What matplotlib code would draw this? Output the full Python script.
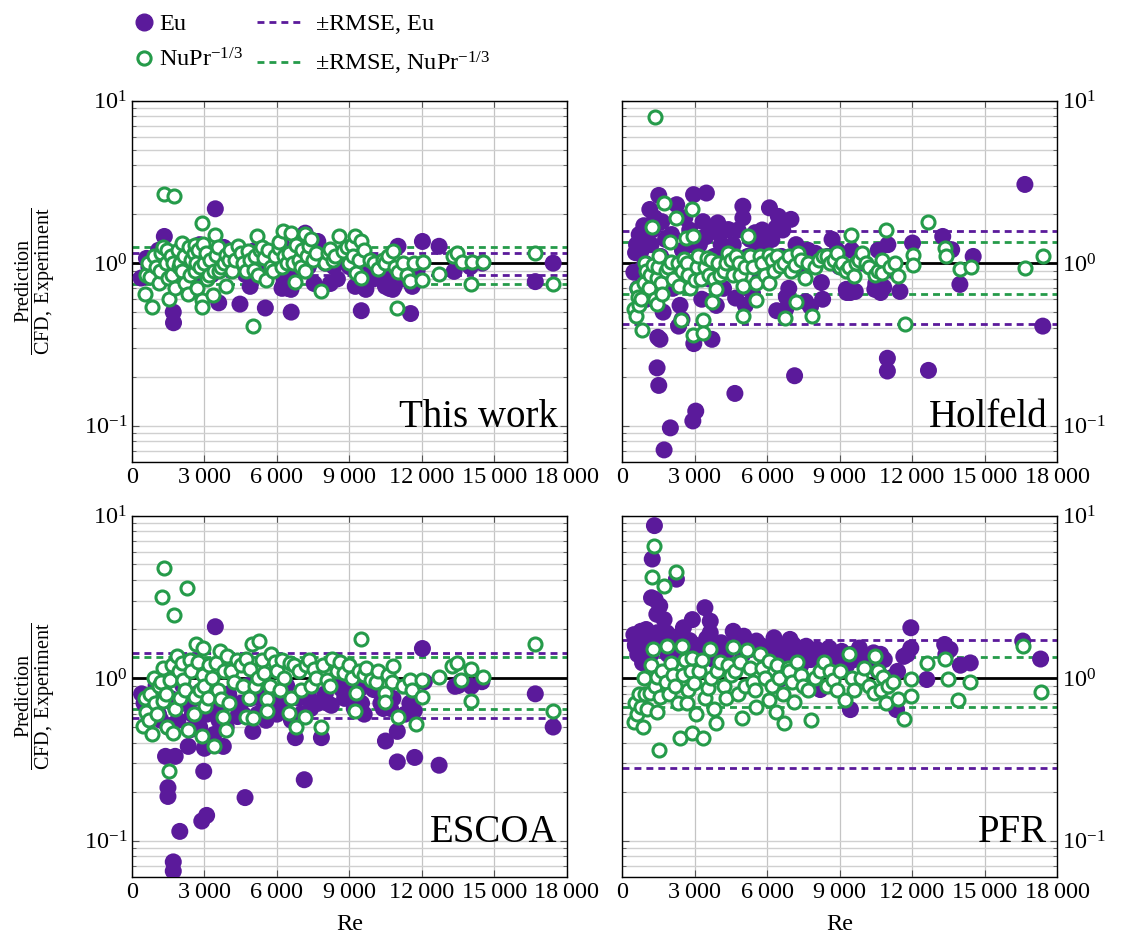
import matplotlib
matplotlib.use('Agg')
import matplotlib.pyplot as plt
import numpy as np
from matplotlib.ticker import FuncFormatter, LogLocator, MultipleLocator, NullFormatter
from matplotlib.lines import Line2D

plt.rcParams['font.family'] = ['Liberation Serif', 'DejaVu Serif']
plt.rcParams['mathtext.fontset'] = 'custom'
plt.rcParams['mathtext.rm'] = 'Liberation Serif'
plt.rcParams['mathtext.it'] = 'Liberation Serif:italic'

PURPLE = '#5b1a9b'
GREEN = '#259b4a'

# (Re, prediction / reference) pairs
tw_eu = [(380, 0.81), (600, 1.07), (700, 0.95), (900, 0.9), (1100, 1.2), (1250, 1.0), (1340, 1.46),
         (1500, 0.95), (1710, 0.50), (1720, 0.43), (1800, 0.9), (2000, 1.05), (2200, 1.1), (2300, 0.85),
         (2500, 0.8), (2600, 1.2), (2800, 1.3), (2900, 0.95), (3200, 1.1), (3300, 0.85), (3450, 2.16),
         (3590, 0.57), (3600, 1.2), (3800, 1.25), (3900, 1.0), (4100, 0.9), (4300, 1.1), (4470, 0.56),
         (4700, 0.85), (4890, 0.72), (5100, 1.2), (5200, 1.0), (5520, 0.53), (5600, 0.9), (5800, 1.1),
         (6000, 1.0), (6200, 1.3), (6210, 0.70), (6250, 0.72), (6300, 0.78), (6400, 0.85), (6450, 0.7),
         (6580, 0.69), (6590, 0.50), (6600, 0.75), (6700, 0.85), (6900, 1.2), (7000, 1.4), (7170, 1.53),
         (7300, 0.95), (7400, 1.1), (7540, 0.75), (7690, 1.36), (7800, 1.1), (8000, 1.0), (8210, 0.75),
         (8360, 0.95), (8500, 0.8), (8700, 1.05), (8800, 1.1), (9000, 0.95), (9240, 0.72), (9300, 0.9),
         (9490, 0.51), (9680, 0.69), (9900, 0.9), (10000, 0.8), (10200, 1.0), (10400, 0.9), (10490, 0.72),
         (10550, 0.75), (10600, 0.85), (10650, 0.7), (10700, 0.75), (10790, 0.69), (10850, 0.72),
         (10900, 0.9), (11010, 1.27), (11200, 0.8), (11300, 0.95), (11530, 0.49), (11600, 0.72),
         (11800, 0.9), (12020, 1.36), (12710, 1.27), (13330, 0.89), (13500, 1.0), (14000, 0.95),
         (14500, 1.0), (16690, 0.77), (17430, 1.0)]
tw_nu = [(530, 0.65), (600, 0.85), (650, 1.0), (750, 0.82), (830, 0.54), (900, 1.1), (1000, 0.95),
         (1100, 0.75), (1150, 0.9), (1200, 1.15), (1300, 1.25), (1340, 2.66), (1400, 1.0), (1450, 1.2),
         (1490, 0.81), (1520, 0.60), (1610, 1.11), (1650, 0.85), (1700, 1.0), (1740, 2.59), (1800, 0.7),
         (1900, 1.2), (1950, 0.95), (2000, 1.0), (2080, 0.89), (2080, 1.33), (2150, 1.1), (2200, 0.75),
         (2300, 0.65), (2350, 1.25), (2400, 0.85), (2450, 1.05), (2550, 1.15), (2600, 0.89), (2600, 1.30),
         (2650, 1.0), (2700, 0.7), (2750, 1.2), (2800, 0.95), (2890, 1.76), (2890, 0.59), (2890, 0.54),
         (2940, 1.31), (2970, 1.0), (3050, 1.15), (3100, 0.8), (3200, 0.85), (3250, 1.05), (3340, 0.64),
         (3400, 0.9), (3440, 1.49), (3480, 1.13), (3550, 1.25), (3600, 0.9), (3700, 0.95), (3800, 1.0),
         (3880, 0.72), (3880, 1.13), (4000, 1.05), (4050, 1.2), (4150, 0.89), (4250, 1.05), (4370, 1.27),
         (4500, 1.15), (4600, 1.0), (4700, 0.9), (4810, 1.18), (4900, 1.05), (5000, 0.41), (5030, 0.91),
         (5100, 1.1), (5180, 1.46), (5200, 0.85), (5300, 1.2), (5400, 1.25), (5480, 1.07), (5550, 0.79),
         (5650, 1.2), (5740, 0.95), (5850, 0.9), (5900, 1.1), (6070, 1.24), (6100, 1.35), (6200, 0.95),
         (6260, 1.57), (6300, 1.1), (6400, 1.0), (6510, 1.15), (6580, 1.53), (6650, 1.0), (6730, 0.77),
         (6800, 1.3), (6900, 1.05), (7000, 0.95), (7050, 1.2), (7170, 0.89), (7170, 1.52), (7250, 1.1),
         (7320, 1.27), (7400, 1.4), (7510, 1.05), (7600, 1.15), (7840, 0.67), (8000, 1.0), (8100, 1.15),
         (8210, 1.22), (8300, 1.05), (8400, 1.1), (8580, 1.46), (8750, 1.18), (8900, 1.25), (9000, 1.0),
         (9100, 1.3), (9150, 1.1), (9240, 1.47), (9280, 0.87), (9390, 1.04), (9460, 1.36), (9490, 0.81),
         (9600, 1.2), (9830, 1.05), (10000, 1.0), (10200, 0.92), (10400, 1.05), (10470, 1.0), (10600, 1.1),
         (10790, 1.18), (10900, 0.95), (11010, 0.88), (10980, 0.53), (11200, 1.0), (11400, 0.85),
         (11500, 0.78), (11680, 1.0), (12020, 0.79), (12050, 1.02), (12710, 0.86), (13300, 1.11),
         (13450, 1.16), (13670, 1.02), (14010, 0.74), (14070, 1.01), (14510, 1.02), (16690, 1.15),
         (17430, 0.74)]

hol_eu = [(490, 0.88), (560, 1.16), (600, 1.3), (650, 0.7), (710, 1.50), (750, 0.9), (800, 1.2),
          (860, 1.54), (900, 1.7), (950, 1.0), (1000, 0.6), (1050, 1.3), (1100, 0.75), (1150, 2.14),
          (1200, 1.3), (1250, 1.6), (1300, 0.8), (1350, 1.9), (1400, 0.9), (1450, 0.227), (1480, 0.35),
          (1520, 2.61), (1520, 0.177), (1570, 0.34), (1600, 1.1), (1650, 1.8), (1700, 0.5), (1740, 0.071),
          (1800, 1.4), (1900, 1.0), (2000, 0.097), (2050, 1.5), (2100, 0.7), (2200, 0.85), (2260, 2.29),
          (2340, 0.41), (2400, 0.55), (2480, 0.45), (2500, 1.2), (2600, 1.9), (2700, 0.9), (2800, 1.6),
          (2900, 1.3), (2930, 0.107), (2960, 2.64), (2970, 0.32), (3050, 0.123), (3100, 0.9), (3200, 1.3),
          (3300, 0.6), (3350, 1.8), (3450, 1.45), (3490, 2.70), (3600, 0.8), (3700, 1.6), (3720, 0.34),
          (3800, 1.1), (3900, 0.55), (3960, 1.77), (4050, 1.5), (4100, 1.3), (4200, 0.7), (4300, 1.0),
          (4400, 1.61), (4500, 0.9), (4600, 1.3), (4670, 0.158), (4700, 0.61), (4800, 1.6), (5000, 2.24),
          (5000, 1.90), (5100, 0.55), (5200, 1.1), (5300, 1.4), (5400, 0.65), (5510, 1.54), (5600, 1.2),
          (5700, 0.8), (5800, 1.6), (5900, 1.3), (6000, 0.9), (6100, 2.19), (6200, 1.4), (6370, 1.65),
          (6400, 0.51), (6470, 1.94), (6600, 1.1), (6650, 1.6), (6770, 0.52), (6800, 0.62), (6900, 0.7),
          (6990, 1.86), (7140, 0.203), (7200, 1.3), (7300, 1.05), (7500, 0.9), (7600, 0.58), (7700, 1.2),
          (7800, 0.54), (8000, 1.15), (8250, 0.76), (8300, 0.6), (8500, 1.1), (8690, 1.40), (8900, 1.2),
          (9000, 0.95), (9280, 0.69), (9300, 0.66), (9450, 0.66), (9500, 1.2), (9650, 0.67), (10000, 1.0),
          (10460, 0.69), (10500, 0.75), (10600, 1.2), (10700, 0.66), (10830, 0.71), (10980, 0.26),
          (10980, 0.217), (11000, 1.3), (11200, 0.9), (11500, 0.67), (12020, 1.33), (12680, 0.219),
          (13270, 1.46), (13640, 1.21), (13980, 0.74), (14530, 1.10), (16670, 3.05), (17410, 0.41)]
hol_nu = [(490, 0.52), (560, 0.47), (600, 0.7), (650, 0.62), (700, 0.55), (780, 0.60), (830, 0.39),
          (900, 0.75), (950, 1.0), (1000, 0.9), (1100, 0.7), (1150, 0.85), (1230, 1.67), (1300, 0.98),
          (1345, 7.94), (1350, 0.6), (1450, 0.81), (1450, 0.56), (1500, 0.95), (1550, 1.1), (1600, 0.75),
          (1650, 0.65), (1740, 2.35), (1800, 0.9), (1900, 0.95), (1970, 1.35), (2040, 1.01), (2100, 0.8),
          (2220, 1.90), (2300, 1.0), (2340, 0.72), (2450, 0.45), (2500, 0.9), (2560, 1.06), (2630, 1.43),
          (2700, 1.0), (2750, 0.85), (2800, 0.7), (2900, 2.14), (2930, 1.46), (2930, 0.36), (3000, 0.79),
          (3100, 0.95), (3150, 1.1), (3250, 0.8), (3340, 0.45), (3370, 0.37), (3450, 0.95), (3520, 1.08),
          (3600, 0.85), (3700, 1.05), (3740, 0.58), (3800, 0.8), (3890, 0.69), (3960, 1.0), (4050, 0.85),
          (4200, 0.9), (4300, 1.0), (4400, 1.15), (4500, 1.05), (4600, 0.85), (4700, 1.1), (4820, 1.0),
          (4900, 0.85), (5000, 0.72), (5000, 0.47), (5100, 0.95), (5220, 1.46), (5300, 1.1), (5400, 0.95),
          (5560, 0.59), (5560, 0.76), (5700, 1.1), (5800, 1.0), (5900, 0.85), (6100, 1.13), (6100, 0.76),
          (6200, 1.05), (6300, 0.9), (6400, 1.1), (6550, 0.96), (6700, 1.0), (6740, 0.46), (6900, 1.1),
          (7000, 0.9), (7140, 0.98), (7180, 0.58), (7290, 1.16), (7400, 1.05), (7580, 0.81), (7700, 1.0),
          (7880, 0.47), (8000, 0.95), (8170, 1.05), (8300, 1.1), (8500, 1.1), (8600, 1.0), (8760, 1.05),
          (8900, 1.15), (9000, 0.95), (9100, 1.0), (9280, 0.89), (9400, 0.95), (9460, 1.50), (9580, 0.83),
          (9700, 1.0), (9800, 1.05), (9920, 1.15), (10100, 1.0), (10200, 0.95), (10460, 0.85),
          (10600, 0.9), (10760, 1.05), (10760, 0.87), (10940, 1.60), (11100, 0.95), (11300, 1.0),
          (11430, 0.83), (11690, 0.42), (12020, 1.13), (12020, 0.98), (12680, 1.79), (13350, 1.24),
          (13420, 1.11), (13980, 0.92), (14460, 0.95), (16670, 0.94), (17410, 1.11)]

esc_eu = [(400, 0.8), (500, 0.7), (600, 0.77), (700, 0.55), (800, 0.6), (900, 0.8), (1000, 0.9),
          (1100, 0.6), (1200, 0.55), (1300, 0.85), (1390, 0.33), (1490, 0.212), (1490, 0.187), (1500, 0.5),
          (1600, 0.75), (1700, 0.7), (1710, 0.074), (1710, 0.065), (1790, 0.33), (1900, 0.55), (1980, 0.114),
          (2100, 0.9), (2200, 0.7), (2330, 0.38), (2400, 0.48), (2500, 0.6), (2600, 0.75), (2700, 0.8),
          (2800, 0.5), (2890, 0.132), (2970, 0.267), (3000, 0.37), (3090, 0.143), (3100, 0.6), (3300, 0.7),
          (3400, 0.45), (3450, 2.07), (3600, 0.55), (3700, 0.65), (3780, 0.38), (3900, 0.5), (4000, 0.8),
          (4200, 0.7), (4370, 0.58), (4500, 0.7), (4600, 0.6), (4680, 0.184), (4800, 0.9), (4900, 0.75),
          (5000, 0.47), (5200, 0.6), (5300, 0.75), (5500, 0.8), (5550, 0.55), (5800, 0.85), (6000, 0.6),
          (6100, 0.7), (6300, 0.75), (6400, 0.9), (6600, 0.55), (6760, 0.43), (6900, 0.75), (7000, 0.6),
          (7130, 0.237), (7300, 0.8), (7400, 0.65), (7700, 0.7), (7840, 0.43), (8000, 0.8), (8100, 0.7),
          (8250, 0.68), (8500, 0.9), (8700, 0.85), (8800, 0.75), (9100, 0.8), (9200, 0.65), (9400, 0.85),
          (9500, 0.7), (9610, 0.60), (9900, 0.9), (10000, 0.85), (10300, 0.7), (10400, 0.65),
          (10490, 0.41), (10700, 0.65), (10800, 0.75), (10980, 0.47), (10980, 0.305), (11300, 0.6),
          (11500, 0.7), (11680, 0.63), (11700, 0.325), (12020, 1.52), (12100, 0.95), (12710, 0.291),
          (13370, 0.89), (13500, 0.9), (13600, 0.95), (14040, 0.89), (14480, 0.95), (16690, 0.80),
          (17430, 0.50)]
esc_nu = [(460, 0.51), (550, 0.75), (600, 0.62), (700, 0.55), (750, 0.80), (830, 0.45), (900, 1.0),
          (950, 0.7), (1050, 0.6), (1100, 0.9), (1200, 0.95), (1240, 3.15), (1270, 0.72), (1270, 1.15),
          (1340, 4.75), (1400, 0.8), (1460, 0.50), (1520, 0.27), (1590, 0.98), (1650, 1.2), (1710, 0.46),
          (1740, 2.43), (1800, 0.65), (1860, 1.36), (1950, 1.1), (2000, 0.75), (2080, 1.23), (2110, 0.98),
          (2200, 0.85), (2260, 3.60), (2330, 0.48), (2400, 1.3), (2450, 1.1), (2550, 0.6), (2600, 0.76),
          (2670, 1.63), (2750, 1.25), (2800, 0.85), (2890, 0.44), (2940, 1.53), (2940, 1.05), (3000, 0.9),
          (3040, 0.67), (3150, 0.75), (3200, 1.2), (3300, 1.0), (3380, 0.38), (3480, 1.24), (3550, 0.85),
          (3630, 1.46), (3680, 0.74), (3750, 0.58), (3800, 1.1), (3880, 0.48), (3930, 1.36), (4000, 0.7),
          (4100, 1.1), (4220, 0.95), (4350, 1.3), (4500, 1.2), (4600, 0.9), (4740, 1.31), (4740, 0.58),
          (4850, 0.75), (4890, 1.13), (4960, 1.63), (5000, 0.57), (5100, 0.9), (5200, 1.0), (5260, 1.69),
          (5400, 1.3), (5480, 1.07), (5590, 0.74), (5590, 0.63), (5700, 0.9), (5770, 1.41), (5900, 1.25),
          (6000, 1.1), (6140, 0.85), (6210, 1.30), (6300, 1.0), (6480, 0.61), (6540, 1.24), (6580, 0.75),
          (6700, 1.2), (6780, 0.50), (6900, 1.1), (7000, 0.85), (7170, 0.58), (7200, 1.2), (7320, 1.29),
          (7400, 0.9), (7540, 1.13), (7600, 1.0), (7840, 0.50), (7900, 1.2), (8060, 0.98), (8200, 0.9),
          (8280, 1.31), (8500, 1.1), (8600, 1.25), (8770, 1.07), (9000, 1.2), (9100, 1.0), (9240, 0.63),
          (9280, 0.81), (9390, 1.10), (9490, 1.73), (9600, 1.05), (9700, 1.15), (9900, 0.98),
          (10100, 0.95), (10200, 1.1), (10470, 0.81), (10470, 0.71), (10600, 1.05), (10760, 0.94),
          (10790, 1.18), (11010, 0.58), (11200, 0.9), (11500, 0.98), (11600, 0.85), (11750, 0.52),
          (12020, 0.98), (12020, 0.76), (12710, 1.01), (13230, 1.18), (13450, 1.24), (13620, 0.98),
          (14010, 1.13), (14010, 0.72), (14510, 1.01), (16690, 1.63), (17430, 0.63)]

pfr_eu = [(490, 1.85), (550, 1.6), (560, 1.57), (650, 1.4), (700, 1.75), (780, 1.94), (850, 1.24),
          (900, 1.5), (1000, 1.99), (1050, 1.8), (1100, 1.6), (1200, 1.4), (1220, 3.12), (1250, 5.4),
          (1340, 8.67), (1370, 3.05), (1440, 2.47), (1450, 1.9), (1560, 2.78), (1600, 1.7), (1700, 1.7),
          (1740, 2.29), (1850, 1.9), (1900, 1.4), (2000, 1.55), (2100, 1.3), (2250, 4.06), (2300, 1.8),
          (2400, 1.6), (2540, 2.04), (2600, 1.45), (2700, 1.5), (2800, 1.7), (2910, 2.29), (3000, 1.6),
          (3100, 1.4), (3250, 1.5), (3430, 2.71), (3500, 1.75), (3650, 2.24), (3650, 1.90), (3800, 1.3),
          (3900, 1.5), (4100, 1.65), (4200, 1.4), (4400, 1.5), (4600, 1.94), (4700, 1.75), (4800, 1.6),
          (5000, 1.4), (5040, 1.81), (5200, 1.65), (5300, 1.5), (5450, 1.55), (5560, 1.69), (5700, 1.6),
          (5800, 1.4), (6000, 1.55), (6100, 1.45), (6290, 1.77), (6400, 1.6), (6510, 0.98), (6600, 1.3),
          (6700, 1.5), (6850, 1.55), (6950, 1.73), (7100, 1.6), (7200, 1.4), (7400, 1.2), (7500, 1.45),
          (7620, 1.57), (7800, 1.3), (7900, 1.35), (8060, 1.50), (8200, 0.85), (8400, 1.4), (8570, 1.53),
          (8700, 1.2), (8800, 1.3), (9000, 1.3), (9090, 1.46), (9300, 1.2), (9450, 0.64), (9500, 1.4),
          (9600, 1.3), (9820, 1.53), (10000, 1.35), (10100, 1.2), (10300, 1.3), (10410, 1.43),
          (10600, 1.1), (10700, 1.4), (10850, 1.30), (11100, 1.0), (11360, 0.64), (11400, 1.1),
          (11660, 1.36), (11800, 1.4), (11950, 2.04), (11950, 1.53), (12610, 0.98), (13350, 1.61),
          (13400, 1.4), (13570, 1.50), (14000, 1.2), (14410, 1.24), (16580, 1.69), (17320, 1.31)]
pfr_nu = [(490, 0.54), (550, 0.7), (600, 0.6), (700, 0.8), (780, 0.66), (850, 0.50), (900, 1.0),
          (950, 0.8), (1050, 0.65), (1150, 0.81), (1200, 1.2), (1260, 4.16), (1290, 1.50), (1340, 6.53),
          (1350, 0.9), (1440, 0.62), (1440, 1.02), (1510, 0.36), (1590, 0.77), (1650, 1.1), (1740, 3.66),
          (1800, 0.95), (1880, 1.58), (1950, 0.8), (2030, 1.24), (2100, 1.05), (2200, 0.9), (2250, 4.50),
          (2300, 0.7), (2400, 0.43), (2470, 1.57), (2540, 1.05), (2600, 1.3), (2700, 0.7), (2750, 0.85),
          (2850, 1.1), (2910, 1.33), (2910, 0.46), (2990, 0.93), (3050, 0.6), (3200, 1.1), (3300, 1.3),
          (3350, 0.43), (3450, 0.75), (3570, 0.87), (3650, 1.50), (3700, 1.0), (3800, 0.65), (3870, 0.53),
          (3940, 1.10), (4050, 1.25), (4200, 0.9), (4300, 0.75), (4400, 1.2), (4500, 1.05), (4600, 1.55),
          (4680, 1.10), (4800, 0.8), (4900, 1.25), (4970, 0.57), (5100, 0.9), (5190, 1.48), (5300, 1.15),
          (5400, 0.95), (5500, 0.85), (5560, 0.66), (5700, 1.41), (5800, 1.15), (5900, 1.0), (6070, 0.73),
          (6070, 1.27), (6200, 0.9), (6370, 0.62), (6400, 1.2), (6500, 1.0), (6650, 0.8), (6700, 0.53),
          (6850, 1.15), (6900, 1.1), (7050, 0.95), (7100, 0.71), (7250, 1.25), (7400, 1.05), (7500, 0.9),
          (7700, 0.85), (7810, 0.55), (8000, 1.0), (8200, 1.1), (8350, 1.25), (8500, 0.9), (8600, 1.1),
          (8720, 0.98), (8900, 0.85), (9000, 1.1), (9230, 0.73), (9380, 1.41), (9500, 1.0), (9600, 0.85),
          (9890, 1.00), (10000, 1.15), (10200, 0.9), (10410, 0.81), (10480, 1.37), (10600, 1.1),
          (10700, 0.85), (10780, 1.01), (10920, 0.70), (11000, 0.9), (11200, 0.95), (11410, 0.74),
          (11660, 0.56), (11950, 0.78), (11950, 0.99), (12610, 1.24), (13350, 1.31), (13500, 0.99),
          (13910, 0.73), (14410, 0.94), (16580, 1.57), (17320, 0.82)]

names = ['This work', 'Holfeld', 'ESCOA', 'PFR']
eu_data = [tw_eu, hol_eu, esc_eu, pfr_eu]
nu_data = [tw_nu, hol_nu, esc_nu, pfr_nu]
rmse_eu = [0.15, 0.575, 0.43, 0.72]
rmse_nu = [0.255, 0.35, 0.35, 0.34]

DASH = (0, (2.5, 1.8))

fig = plt.figure(figsize=(11.22, 9.43), dpi=100)
rects = [[0.1176, 0.5103, 0.3877, 0.3830], [0.5544, 0.5103, 0.3877, 0.3830],
         [0.1176, 0.0703, 0.3877, 0.3830], [0.5544, 0.0703, 0.3877, 0.3830]]

thin_fmt = FuncFormatter(lambda v, p: f'{int(round(v)):,}'.replace(',', '\u2009'))

for i, rect in enumerate(rects):
    ax = fig.add_axes(rect)
    ax.set_yscale('log')
    ax.set_xlim(0, 18000)
    ax.set_ylim(0.06, 10)
    ax.xaxis.set_major_locator(MultipleLocator(3000))
    ax.xaxis.set_major_formatter(thin_fmt)
    ax.yaxis.set_major_locator(LogLocator(10))
    ax.yaxis.set_minor_locator(LogLocator(10, subs=np.arange(2, 10)))
    ax.yaxis.set_minor_formatter(NullFormatter())
    ax.grid(True, which='major', axis='x', color='#c4c4c4', lw=0.9)
    ax.grid(True, which='both', axis='y', color='#d0d0d0', lw=1.0)
    ax.set_axisbelow(True)
    for s in ax.spines.values():
        s.set_linewidth(1.0)
    ax.tick_params(which='both', direction='in', top=True, right=True, left=True,
                   labelsize=17.5, color='#555555')
    ax.tick_params(which='major', length=5)
    ax.tick_params(which='minor', length=3)
    if i % 2 == 1:
        ax.tick_params(axis='y', labelleft=False, labelright=True)
    else:
        ax.set_ylabel(r'$\dfrac{\mathrm{Prediction}}{\mathrm{CFD,\ Experiment}}$', fontsize=14.5)
        ax.yaxis.set_label_coords(-0.172, 0.5)
    if i >= 2:
        ax.set_xlabel('Re', fontsize=17.5, labelpad=8)

    ax.axhline(1, color='black', lw=2, zorder=2)
    for r, col in [(rmse_eu[i], PURPLE), (rmse_nu[i], GREEN)]:
        ax.axhline(1 + r, color=col, lw=2.0, ls=DASH, zorder=2)
        ax.axhline(1 - r, color=col, lw=2.0, ls=DASH, zorder=2)

    eu = np.array(eu_data[i])
    nu = np.array(nu_data[i])
    ax.scatter(eu[:, 0], eu[:, 1], s=150, c=PURPLE, edgecolors='none', zorder=3)
    ax.scatter(nu[:, 0], nu[:, 1], s=88, facecolors='white', edgecolors=GREEN,
               linewidths=2.2, zorder=4)

    ax.text(0.978, 0.095, names[i], transform=ax.transAxes, ha='right', va='baseline',
            fontsize=28, zorder=5)

h1 = Line2D([], [], ls='none', marker='o', ms=12, mfc=PURPLE, mec=PURPLE)
h2 = Line2D([], [], ls='none', marker='o', ms=9.5, mfc='white', mec=GREEN, mew=2.2)
fig.legend([h1, h2], ['Eu', r'$\mathrm{NuPr}^{-1/3}$'], loc='upper left',
           bbox_to_anchor=(0.121, 0.986), frameon=False, handlelength=0.7, handletextpad=0.25,
           fontsize=17.5, labelspacing=0.55, borderaxespad=0, borderpad=0)
l1 = Line2D([], [], color=PURPLE, lw=2.0, ls=DASH)
l2 = Line2D([], [], color=GREEN, lw=2.0, ls=DASH)
fig.legend([l1, l2], [r'$\pm$RMSE, Eu', r'$\pm$RMSE, $\mathrm{NuPr}^{-1/3}$'], loc='upper left',
           bbox_to_anchor=(0.229, 0.986), frameon=False, handlelength=1.9, handletextpad=0.5,
           fontsize=17.5, labelspacing=0.55, borderaxespad=0, borderpad=0)

fig.savefig('out.png', dpi=100)
